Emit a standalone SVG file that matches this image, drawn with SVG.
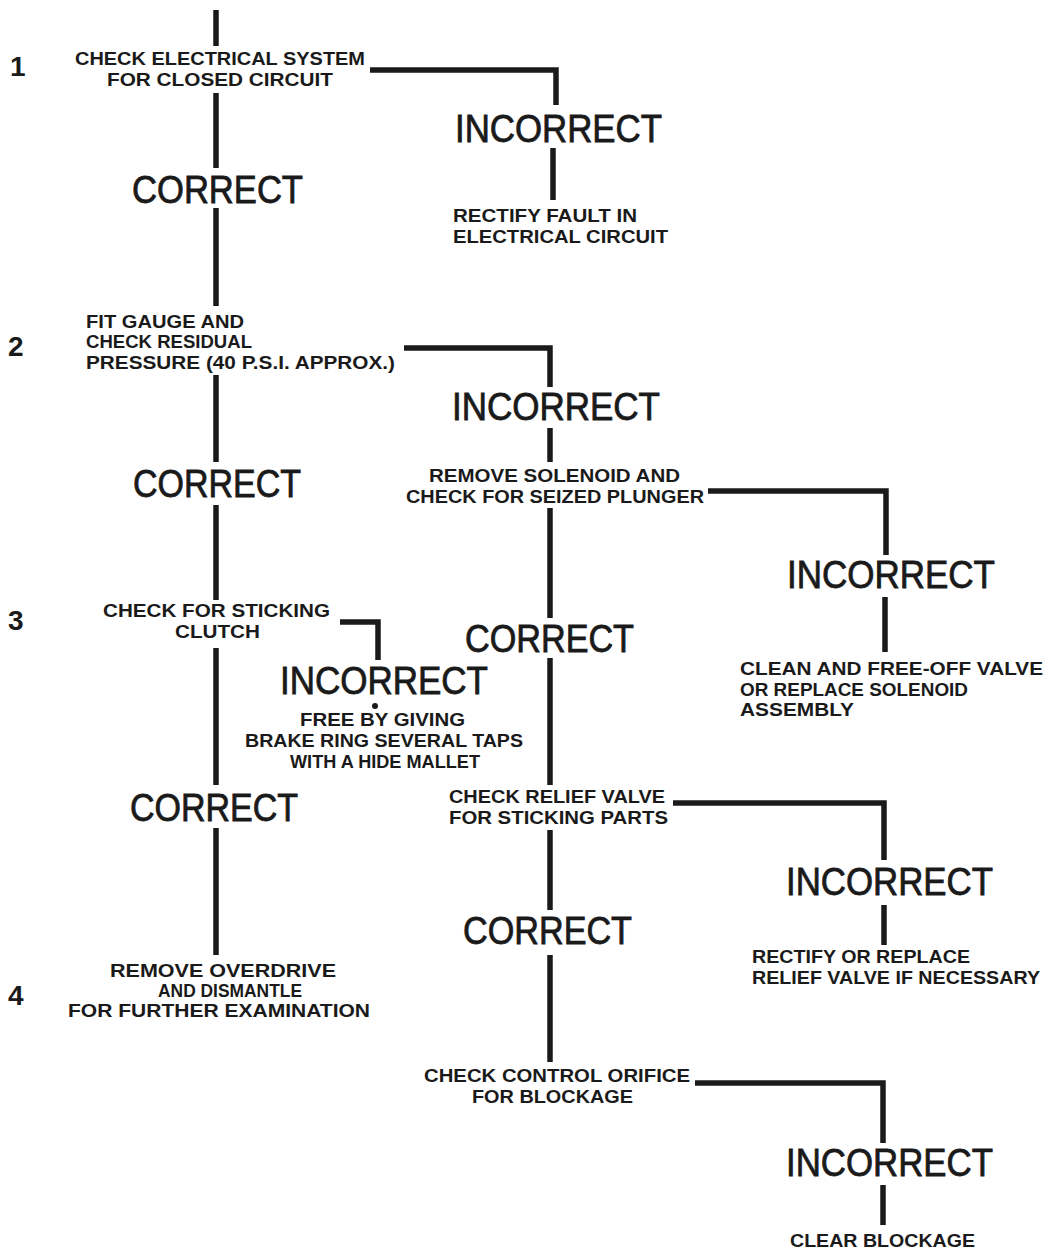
<svg xmlns="http://www.w3.org/2000/svg" width="1049" height="1253" viewBox="0 0 1049 1253">
<style>
.s{font-family:"Liberation Sans",Arial,sans-serif;font-weight:bold;font-size:19px;fill:#1a1a1a}
.b{font-family:"Liberation Sans",Arial,sans-serif;font-size:38.5px;fill:#1a1a1a;stroke:#1a1a1a;stroke-width:0.8}
.n{font-family:"Liberation Sans",Arial,sans-serif;font-weight:bold;font-size:28px;fill:#1a1a1a}
.c{fill:none;stroke:#1a1a1a;stroke-width:5.5;stroke-linejoin:miter;stroke-linecap:butt}
</style>
<rect width="1049" height="1253" fill="#ffffff"/>
<g id="connectors" class="c">
<path d="M216 10V46"/>
<path d="M216 93V168"/>
<path d="M216 208V306"/>
<path d="M216 375V462"/>
<path d="M216 505V600"/>
<path d="M216 648V785"/>
<path d="M216 828V955"/>
<path d="M370 70H556V105"/>
<path d="M553 148V200"/>
<path d="M404 348H550V387"/>
<path d="M550 428V462"/>
<path d="M550 508V618"/>
<path d="M550 658V785"/>
<path d="M550 830V910"/>
<path d="M550 955V1062"/>
<path d="M708 491H886V555"/>
<path d="M885 597V652"/>
<path d="M340 622H378V660"/>
<circle cx="375" cy="706" r="3" fill="#1a1a1a" stroke="none"/>
<path d="M673 803H884V860"/>
<path d="M884 905V945"/>
<path d="M695 1083H883V1143"/>
<path d="M883 1185V1225"/>
</g>
<g id="step-numbers">
<text class="n" x="10" y="76">1</text>
<text class="n" x="8" y="356">2</text>
<text class="n" x="8" y="630">3</text>
<text class="n" x="8" y="1005">4</text>
</g>
<g id="n1">
<text class="s" x="75" y="65" textLength="290" lengthAdjust="spacingAndGlyphs">CHECK ELECTRICAL SYSTEM</text>
<text class="s" x="107" y="86" textLength="226" lengthAdjust="spacingAndGlyphs">FOR CLOSED CIRCUIT</text>
</g>
<g id="n1-incorrect"><text class="b" x="455" y="142" textLength="207" lengthAdjust="spacingAndGlyphs">INCORRECT</text></g>
<g id="n1-fix">
<text class="s" x="453" y="222" textLength="184" lengthAdjust="spacingAndGlyphs">RECTIFY FAULT IN</text>
<text class="s" x="453" y="243" textLength="215" lengthAdjust="spacingAndGlyphs">ELECTRICAL CIRCUIT</text>
</g>
<g id="n1-correct"><text class="b" x="132" y="203" textLength="171" lengthAdjust="spacingAndGlyphs">CORRECT</text></g>
<g id="n2">
<text class="s" x="86" y="328" textLength="158" lengthAdjust="spacingAndGlyphs">FIT GAUGE AND</text>
<text class="s" x="86" y="348" textLength="166" lengthAdjust="spacingAndGlyphs">CHECK RESIDUAL</text>
<text class="s" x="86" y="369" textLength="309" lengthAdjust="spacingAndGlyphs">PRESSURE (40 P.S.I. APPROX.)</text>
</g>
<g id="n2-incorrect"><text class="b" x="452" y="420" textLength="208" lengthAdjust="spacingAndGlyphs">INCORRECT</text></g>
<g id="n2-correct"><text class="b" x="133" y="497" textLength="168" lengthAdjust="spacingAndGlyphs">CORRECT</text></g>
<g id="n2a">
<text class="s" x="429" y="482" textLength="251" lengthAdjust="spacingAndGlyphs">REMOVE SOLENOID AND</text>
<text class="s" x="406" y="503" textLength="298" lengthAdjust="spacingAndGlyphs">CHECK FOR SEIZED PLUNGER</text>
</g>
<g id="n2a-incorrect"><text class="b" x="787" y="588" textLength="208" lengthAdjust="spacingAndGlyphs">INCORRECT</text></g>
<g id="n2a-fix">
<text class="s" x="740" y="675" textLength="303" lengthAdjust="spacingAndGlyphs">CLEAN AND FREE-OFF VALVE</text>
<text class="s" x="740" y="696" textLength="228" lengthAdjust="spacingAndGlyphs">OR REPLACE SOLENOID</text>
<text class="s" x="740" y="716" textLength="114" lengthAdjust="spacingAndGlyphs">ASSEMBLY</text>
</g>
<g id="n2a-correct"><text class="b" x="465" y="652" textLength="169" lengthAdjust="spacingAndGlyphs">CORRECT</text></g>
<g id="n3">
<text class="s" x="103" y="617" textLength="227" lengthAdjust="spacingAndGlyphs">CHECK FOR STICKING</text>
<text class="s" x="175" y="638" textLength="85" lengthAdjust="spacingAndGlyphs">CLUTCH</text>
</g>
<g id="n3-incorrect"><text class="b" x="280" y="694" textLength="208" lengthAdjust="spacingAndGlyphs">INCORRECT</text></g>
<g id="n3-fix">
<text class="s" x="300" y="726" textLength="165" lengthAdjust="spacingAndGlyphs">FREE BY GIVING</text>
<text class="s" x="245" y="747" textLength="278" lengthAdjust="spacingAndGlyphs">BRAKE RING SEVERAL TAPS</text>
<text class="s" x="290" y="768" textLength="190" lengthAdjust="spacingAndGlyphs">WITH A HIDE MALLET</text>
</g>
<g id="n3-correct"><text class="b" x="130" y="821" textLength="168" lengthAdjust="spacingAndGlyphs">CORRECT</text></g>
<g id="n4">
<text class="s" x="110" y="977" textLength="226" lengthAdjust="spacingAndGlyphs">REMOVE OVERDRIVE</text>
<text class="s" x="158" y="997" textLength="144" lengthAdjust="spacingAndGlyphs">AND DISMANTLE</text>
<text class="s" x="68" y="1017" textLength="302" lengthAdjust="spacingAndGlyphs">FOR FURTHER EXAMINATION</text>
</g>
<g id="n2b">
<text class="s" x="449" y="803" textLength="216" lengthAdjust="spacingAndGlyphs">CHECK RELIEF VALVE</text>
<text class="s" x="449" y="824" textLength="219" lengthAdjust="spacingAndGlyphs">FOR STICKING PARTS</text>
</g>
<g id="n2b-incorrect"><text class="b" x="786" y="895" textLength="207" lengthAdjust="spacingAndGlyphs">INCORRECT</text></g>
<g id="n2b-fix">
<text class="s" x="752" y="963" textLength="218" lengthAdjust="spacingAndGlyphs">RECTIFY OR REPLACE</text>
<text class="s" x="752" y="984" textLength="288" lengthAdjust="spacingAndGlyphs">RELIEF VALVE IF NECESSARY</text>
</g>
<g id="n2b-correct"><text class="b" x="463" y="944" textLength="169" lengthAdjust="spacingAndGlyphs">CORRECT</text></g>
<g id="n2c">
<text class="s" x="424" y="1082" textLength="266" lengthAdjust="spacingAndGlyphs">CHECK CONTROL ORIFICE</text>
<text class="s" x="472" y="1103" textLength="161" lengthAdjust="spacingAndGlyphs">FOR BLOCKAGE</text>
</g>
<g id="n2c-incorrect"><text class="b" x="786" y="1176" textLength="207" lengthAdjust="spacingAndGlyphs">INCORRECT</text></g>
<g id="n2c-fix">
<text class="s" x="790" y="1247" textLength="185" lengthAdjust="spacingAndGlyphs">CLEAR BLOCKAGE</text>
</g>
</svg>
